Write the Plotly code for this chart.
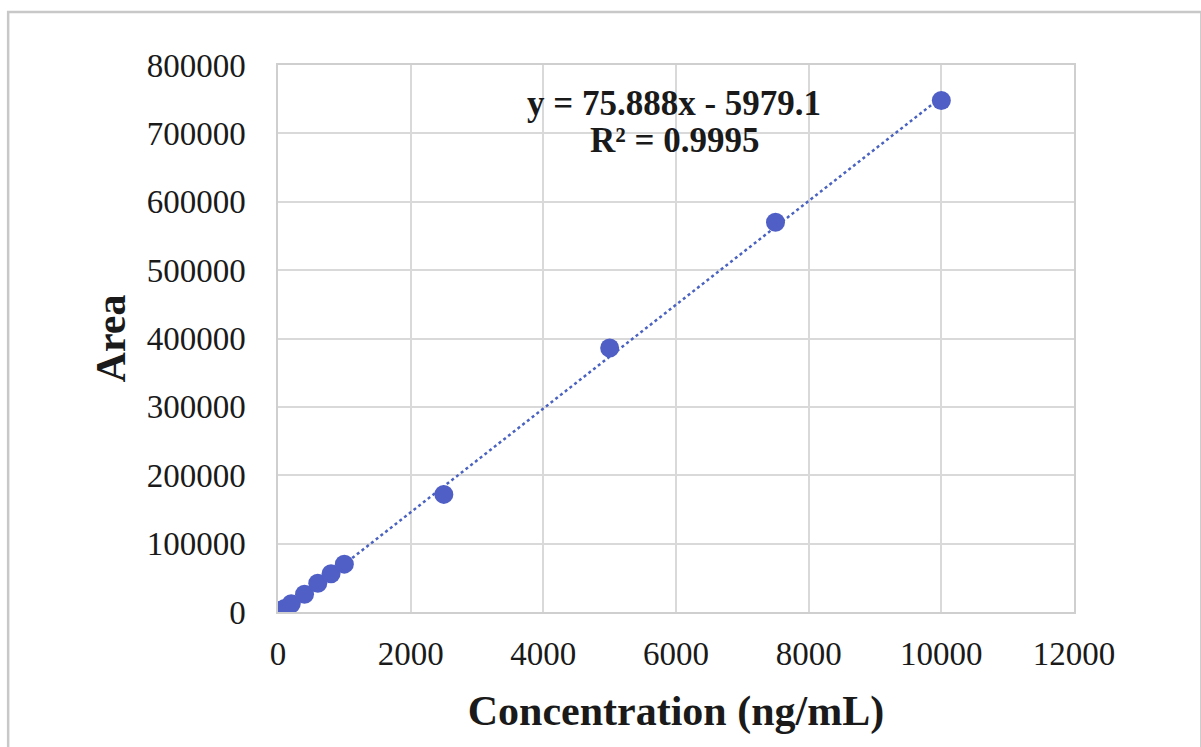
import numpy as np
import plotly.graph_objects as go

# Calibration standards
concentration = [50, 100, 200, 400, 600, 800, 1000, 2500, 5000, 7500, 10000]
area = [2500, 5000, 12000, 26000, 42000, 56000, 70000, 172000, 386000, 570000, 748000]

# Linear trendline parameters
slope = 75.888
intercept = -5979.1
r_squared = 0.9995

x_ticks = [0, 2000, 4000, 6000, 8000, 10000, 12000]
y_ticks = [0, 100000, 200000, 300000, 400000, 500000, 600000, 700000, 800000]

SERIF = "Liberation Serif, Times New Roman, serif"
POINT_COLOR = "#4f5fc6"
LINE_COLOR = "#4a62c0"
TEXT_COLOR = "#1a1a1a"

fit_x = np.linspace(min(concentration), max(concentration), 200)
fit_y = slope * fit_x + intercept

fig = go.Figure()
fig.add_trace(go.Scatter(
    x=fit_x, y=fit_y, mode="lines",
    line=dict(color=LINE_COLOR, width=2.5, dash="dot"),
    hoverinfo="skip", showlegend=False,
))
fig.add_trace(go.Scatter(
    x=concentration, y=area, mode="markers",
    marker=dict(color=POINT_COLOR, size=19, line=dict(width=0)),
    showlegend=False,
))

# Trendline equation and R² label
fig.add_annotation(
    x=0.498, y=0.93, xref="paper", yref="paper", yanchor="middle",
    text=f"<b>y = {slope}x - {abs(intercept)}</b>", showarrow=False,
    font=dict(family=SERIF, size=35, color=TEXT_COLOR),
)
fig.add_annotation(
    x=0.498, y=0.862, xref="paper", yref="paper", yanchor="middle",
    text=f"<b>R² = {r_squared}</b>", showarrow=False,
    font=dict(family=SERIF, size=35, color=TEXT_COLOR),
)

# Outer chart frame
fig.add_shape(
    type="rect", xref="paper", yref="paper",
    x0=-0.339, x1=1.16, y0=-0.26, y1=1.097,
    line=dict(color="#c8c8c8", width=2.5), fillcolor="rgba(0,0,0,0)",
    layer="below",
)

fig.update_layout(
    width=1201, height=747,
    margin=dict(l=278, r=127, t=65, b=135),
    paper_bgcolor="white", plot_bgcolor="white",
    font=dict(family=SERIF, color=TEXT_COLOR),
    xaxis=dict(
        range=[0, 12000], tickvals=x_ticks, ticktext=[str(v) for v in x_ticks],
        showgrid=True, gridcolor="#d9d9d9", gridwidth=1.5,
        zeroline=False, showline=True, linecolor="#cfcfcf", linewidth=1.5,
        mirror=True, ticks="", ticklabelstandoff=12,
        tickfont=dict(family=SERIF, size=33),
        title=dict(text="<b>Concentration (ng/mL)</b>",
                   font=dict(family=SERIF, size=42), standoff=24),
    ),
    yaxis=dict(
        range=[0, 800000], tickvals=y_ticks, ticktext=[str(v) for v in y_ticks],
        showgrid=True, gridcolor="#d9d9d9", gridwidth=1.5,
        zeroline=False, showline=True, linecolor="#cfcfcf", linewidth=1.5,
        mirror=True, ticks="", ticklabelstandoff=24,
        tickfont=dict(family=SERIF, size=33),
        title=dict(text="<b>Area</b>", font=dict(family=SERIF, size=42),
                   standoff=8),
    ),
)

fig.write_html("out.html")
